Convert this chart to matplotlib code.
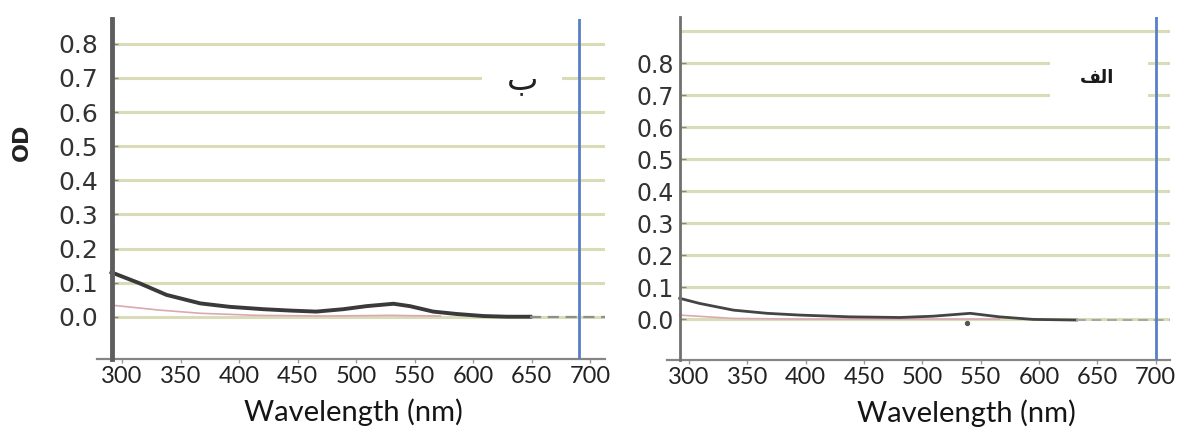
import numpy as np
import matplotlib
matplotlib.use("Agg")
import matplotlib.pyplot as plt
from matplotlib.patches import Rectangle

# --- data ------------------------------------------------------------------
x_ticks = [300, 350, 400, 450, 500, 550, 600, 650, 700]
y_ticks = [0.0, 0.1, 0.2, 0.3, 0.4, 0.5, 0.6, 0.7, 0.8]

# panel "ب" (left)
wl_b = [291, 315, 338, 367, 392, 421, 444, 466, 489, 509, 532, 546, 566, 586, 609, 629, 649]
od_b = [0.13, 0.098, 0.064, 0.039, 0.029, 0.022, 0.018, 0.015, 0.022, 0.031, 0.038,
        0.031, 0.015, 0.008, 0.002, 0.0, 0.0]
wl_b_tail = [649, 713]
od_b_tail = [0.0, 0.0]
wl_b_ref = [291, 330, 367, 415, 472, 529, 572]
od_b_ref = [0.034, 0.020, 0.010, 0.004, 0.002, 0.004, 0.002]
grid_b = [0.0, 0.1, 0.2, 0.3, 0.4, 0.5, 0.6, 0.7, 0.8]

# panel "الف" (right)
wl_a = [292, 309, 338, 367, 395, 438, 481, 509, 541, 566, 595, 632]
od_a = [0.065, 0.049, 0.028, 0.018, 0.0125, 0.007, 0.005, 0.009, 0.018, 0.007, -0.001, -0.003]
wl_a_tail = [632, 712]
od_a_tail = [-0.003, -0.003]
wl_a_ref = [292, 338, 395, 480, 566]
od_a_ref = [0.0125, 0.002, 0.0, 0.0, 0.0]
wl_a_dot = [538]
od_a_dot = [-0.011]
grid_a = [0.0, 0.1, 0.2, 0.3, 0.4, 0.5, 0.6, 0.7, 0.8, 0.9]

GRID = "#d9dcb6"
BLUE = "#5a7fc6"

fig = plt.figure(figsize=(11.8, 4.29), dpi=100)
fig.patch.set_facecolor("white")

ax_b = fig.add_axes([97 / 1180, 70 / 429, 508 / 1180, 340 / 429])
ax_a = fig.add_axes([667 / 1180, 69 / 429, 503 / 1180, 343 / 429])


def setup(ax, xlim, ylim, spine_x, spine_w, spine_c, grid, blue_x, ysize, ypad):
    ax.set_xlim(*xlim)
    ax.set_ylim(*ylim)
    for s in ["top", "right"]:
        ax.spines[s].set_visible(False)
    ax.spines["left"].set_position(("data", spine_x))
    ax.spines["left"].set_linewidth(spine_w)
    ax.spines["left"].set_color(spine_c)
    ax.spines["left"].set_zorder(5)
    ax.spines["bottom"].set_linewidth(1.6)
    ax.spines["bottom"].set_color("#858585")
    ax.hlines(grid, spine_x, xlim[1], color=GRID, lw=2.2, zorder=1)
    ax.axvline(blue_x, color=BLUE, lw=2.0, zorder=4)
    ax.set_xticks(x_ticks)
    ax.set_xticklabels([str(v) for v in x_ticks], fontfamily="Lato", fontsize=17, color="#222222")
    ax.set_yticks(y_ticks)
    ax.set_yticklabels(["%.1f" % v for v in y_ticks], fontfamily="DejaVu Sans",
                       fontsize=ysize, color="#333333")
    ax.tick_params(axis="x", direction="out", length=3, width=1, color="#999999", pad=2)
    ax.tick_params(axis="y", direction="in", length=4, width=1, color="#888888", pad=ypad)


setup(ax_b, (278.6, 712.8), (-0.124, 0.873), 291, 3.5, "#5e5e5e", grid_b, 691, 18, 9.5)
setup(ax_a, (281.1, 712.2), (-0.128, 0.945), 292.3, 2.0, "#707070", grid_a, 700, 17, 4.5)

# curves
ax_b.plot(wl_b_ref, od_b_ref, color="#d9a9b3", lw=1.2, zorder=2)
ax_b.plot(wl_b, od_b, color="#3a3a3a", lw=2.8, zorder=3)
ax_b.plot(wl_b_tail, od_b_tail, color="#8e8e8e", lw=1.6, ls=(0, (5, 3)), zorder=3)

ax_a.plot(wl_a_ref, od_a_ref, color="#d9a9b3", lw=1.2, zorder=2)
ax_a.plot(wl_a, od_a, color="#444444", lw=2.0, zorder=3)
ax_a.plot(wl_a_tail, od_a_tail, color="#a5a5a5", lw=1.4, ls=(0, (5, 3)), zorder=3)
ax_a.scatter(wl_a_dot, od_a_dot, s=8, color="#555555", zorder=3)

# panel letters on white boxes
ax_b.add_patch(Rectangle((607.7, 0.64), 68.3, 0.12, facecolor="white", edgecolor="none", zorder=2))
ax_b.text(642, 0.695, "\u0628", fontfamily="DejaVu Sans", fontsize=24,
          ha="center", va="center", color="#222222", zorder=6)

ax_a.add_patch(Rectangle((609, 0.66), 84, 0.18, facecolor="white", edgecolor="none", zorder=2))
ax_a.text(650, 0.753, "\uFED2\uFEDF\uFE8D", fontfamily="DejaVu Sans", fontweight="bold",
          fontsize=13, ha="center", va="center", color="#1a1a1a", zorder=6)

# axis labels
ax_b.set_xlabel("Wavelength (nm)", fontfamily="Lato", fontsize=21, color="#151515")
ax_b.xaxis.set_label_coords(0.504, -0.156)
ax_b.xaxis.label.set_va("center")
ax_a.set_xlabel("Wavelength (nm)", fontfamily="Lato", fontsize=21, color="#151515")
ax_a.xaxis.set_label_coords(0.596, -0.155)
ax_a.xaxis.label.set_va("center")

ax_b.set_ylabel("OD", fontfamily="DejaVu Sans", fontweight="bold", fontsize=16, color="#222222")
ax_b.yaxis.set_label_coords(-0.148, 0.638)
ax_b.yaxis.label.set_va("center")

fig.savefig("out.png", dpi=100)
